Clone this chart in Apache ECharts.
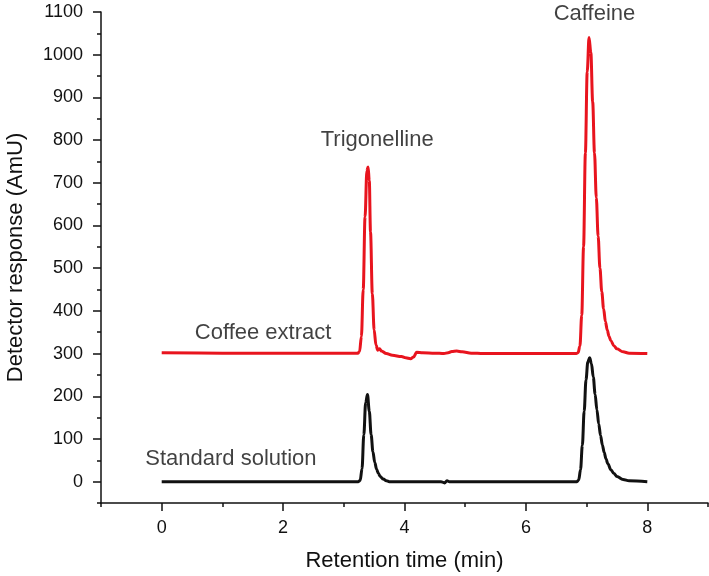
<!DOCTYPE html>
<html>
<head>
<meta charset="utf-8">
<script src="https://cdn.jsdelivr.net/npm/echarts@6/dist/echarts.min.js"></script>
<style>
  html, body { margin: 0; padding: 0; background: #fff; }
  #chart { width: 709px; height: 576px; }
</style>
</head>
<body>
<div id="chart"></div>
<script>
// retention time (min), detector response (AmU)
const coffeeExtract = [
  [0, 302], [1, 301], [2, 301], [3, 301], [3.23, 301], [3.26, 305], [3.29, 340],
  [3.32, 450], [3.35, 620], [3.38, 728], [3.4, 737], [3.42, 705], [3.44, 585],
  [3.47, 440], [3.5, 355], [3.53, 320], [3.56, 308], [3.59, 311], [3.62, 306],
  [3.7, 300], [3.8, 296], [3.95, 293], [4.02, 290], [4.1, 288], [4.15, 292],
  [4.2, 303], [4.3, 302], [4.5, 301], [4.65, 300], [4.72, 302], [4.78, 305],
  [4.86, 306], [4.95, 304], [5.1, 301], [5.3, 300], [6, 300], [6.83, 300],
  [6.86, 302], [6.89, 318], [6.92, 390], [6.95, 550], [6.98, 770], [7.01, 960],
  [7.04, 1040], [7.07, 1005], [7.1, 890], [7.13, 770], [7.16, 665], [7.19, 575],
  [7.22, 500], [7.25, 445], [7.28, 405], [7.31, 375], [7.34, 355], [7.37, 340],
  [7.4, 330], [7.45, 318], [7.5, 311], [7.6, 304], [7.7, 301], [8, 300]
];
const standardSolution = [
  [0, 0], [1, 0], [2, 0], [3, 0], [3.24, 0], [3.27, 3], [3.3, 30], [3.33, 110],
  [3.36, 185], [3.39, 204], [3.42, 165], [3.45, 110], [3.48, 70], [3.51, 45],
  [3.54, 29], [3.57, 19], [3.6, 12], [3.65, 6], [3.7, 2], [3.75, 0], [4.6, 0],
  [4.66, -3], [4.7, 2], [4.74, 0], [6, 0], [6.84, 0], [6.87, 4], [6.9, 28],
  [6.93, 85], [6.96, 165], [6.99, 238], [7.02, 280], [7.05, 290], [7.08, 276],
  [7.11, 245], [7.14, 205], [7.17, 168], [7.2, 135], [7.23, 108], [7.26, 86],
  [7.29, 68], [7.32, 53], [7.35, 42], [7.4, 28], [7.45, 19], [7.5, 12],
  [7.6, 5], [7.7, 2], [8, 0]
];
const annotations = [
  [1.67, 348, 'Coffee extract'],
  [1.14, 53, 'Standard solution'],
  [3.55, 801, 'Trigonelline'],
  [7.13, 1095, 'Caffeine']
];
const xMajorTicks = [0, 2, 4, 6, 8];
const yMajorTicks = [0, 100, 200, 300, 400, 500, 600, 700, 800, 900, 1000, 1100];

const font = 'Liberation Sans, Arial, Helvetica, sans-serif';
const ink = '#111';
const tickLine = { color: ink, width: 1.5 };

const option = {
  animation: false,
  backgroundColor: '#fff',
  grid: { left: 101, right: 1, top: 12, bottom: 73, outerBoundsMode: 'none' },
  xAxis: [
    {
      type: 'value', min: -1, max: 9, interval: 1, position: 'bottom',
      name: 'Retention time (min)', nameLocation: 'middle', nameGap: 47,
      nameTextStyle: { color: ink, fontFamily: font, fontSize: 22 },
      splitLine: { show: false },
      axisLine: { show: true, onZero: false, lineStyle: tickLine },
      axisTick: { show: true, inside: false, length: 4, lineStyle: tickLine },
      axisLabel: {
        color: ink, fontFamily: font, fontSize: 18, margin: 16,
        formatter: (v) => (v >= 0 && v <= 8 && v % 2 === 0 ? String(v) : '')
      }
    },
    {
      // longer ticks at the labelled values
      type: 'value', min: -1, max: 9, interval: 1, position: 'bottom',
      splitLine: { show: false },
      axisLine: { show: false, onZero: false },
      axisTick: { show: true, inside: false, length: 8, customValues: xMajorTicks, lineStyle: tickLine },
      axisLabel: { show: false }
    }
  ],
  yAxis: [
    {
      type: 'value', min: -50, max: 1100, interval: 50, position: 'left',
      name: 'Detector response (AmU)', nameLocation: 'middle', nameGap: 74, nameRotate: 90,
      nameTextStyle: { color: ink, fontFamily: font, fontSize: 22 },
      splitLine: { show: false },
      axisLine: { show: true, onZero: false, lineStyle: tickLine },
      axisTick: { show: true, inside: false, length: 4, lineStyle: tickLine },
      axisLabel: {
        color: ink, fontFamily: font, fontSize: 18, margin: 18,
        formatter: (v) => (v >= 0 && v % 100 === 0 ? String(v) : '')
      }
    },
    {
      type: 'value', min: -50, max: 1100, interval: 50, position: 'left',
      splitLine: { show: false },
      axisLine: { show: false, onZero: false },
      axisTick: { show: true, inside: false, length: 8, customValues: yMajorTicks, lineStyle: tickLine },
      axisLabel: { show: false }
    }
  ],
  series: [
    {
      name: 'Coffee extract', type: 'line', data: coffeeExtract,
      showSymbol: false, smooth: 0.35, smoothMonotone: 'x',
      lineStyle: { color: '#e8141e', width: 3 }
    },
    {
      name: 'Standard solution', type: 'line', data: standardSolution,
      showSymbol: false, smooth: 0.35, smoothMonotone: 'x',
      lineStyle: { color: '#111', width: 3 }
    },
    {
      type: 'scatter', data: annotations, symbolSize: 0, silent: true,
      label: {
        show: true, position: 'inside', color: ink, fontFamily: font, fontSize: 22,
        formatter: (p) => p.data[2]
      }
    }
  ]
};

const chart = echarts.init(document.getElementById('chart'));
chart.setOption(option);
</script>
</body>
</html>
